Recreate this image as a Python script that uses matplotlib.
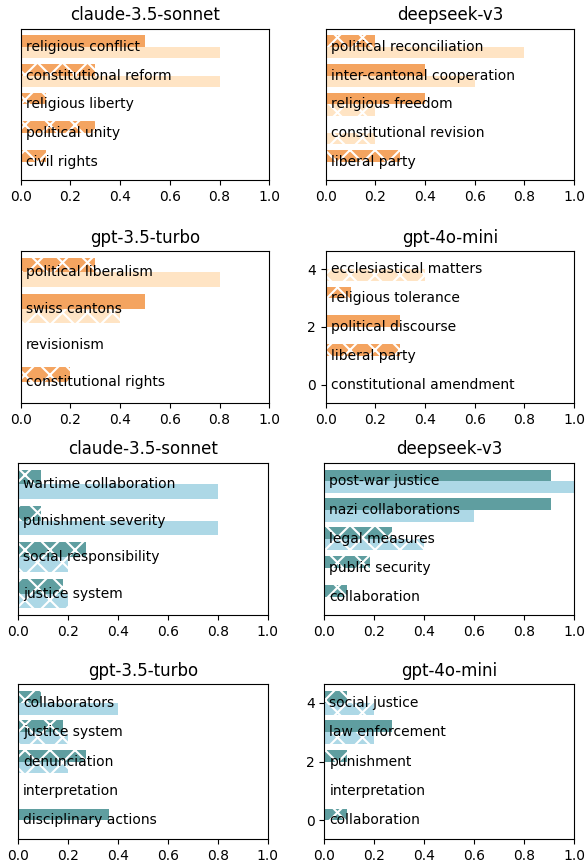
import numpy as np
import matplotlib
matplotlib.use("Agg")
import matplotlib.pyplot as plt

# ---- data (bottom -> top) ----
models = ['claude-3.5-sonnet', 'deepseek-v3', 'gpt-3.5-turbo', 'gpt-4o-mini']

# topic 1 (orange)
claude_a_labels = ['civil rights', 'political unity', 'religious liberty', 'constitutional reform', 'religious conflict']
claude_a_dark = [0.1, 0.3, 0.1, 0.3, 0.5]
claude_a_dark_hatch = [1, 1, 1, 1, 0]
claude_a_light = [0.0, 0.0, 0.0, 0.8, 0.8]
claude_a_light_hatch = [0, 0, 0, 0, 0]

deepseek_a_labels = ['liberal party', 'constitutional revision', 'religious freedom', 'inter-cantonal cooperation', 'political reconciliation']
deepseek_a_dark = [0.3, 0.0, 0.4, 0.4, 0.2]
deepseek_a_dark_hatch = [1, 0, 0, 0, 1]
deepseek_a_light = [0.0, 0.2, 0.2, 0.6, 0.8]
deepseek_a_light_hatch = [0, 1, 1, 0, 0]

gpt35_a_labels = ['constitutional rights', 'revisionism', 'swiss cantons', 'political liberalism']
gpt35_a_dark = [0.2, 0.0, 0.5, 0.3]
gpt35_a_dark_hatch = [1, 0, 0, 1]
gpt35_a_light = [0.0, 0.0, 0.4, 0.8]
gpt35_a_light_hatch = [0, 0, 1, 0]

gpt4o_a_labels = ['constitutional amendment', 'liberal party', 'political discourse', 'religious tolerance', 'ecclesiastical matters']
gpt4o_a_dark = [0.0, 0.3, 0.3, 0.1, 0.0]
gpt4o_a_dark_hatch = [0, 1, 0, 1, 0]
gpt4o_a_light = [0.0, 0.0, 0.0, 0.0, 0.4]
gpt4o_a_light_hatch = [0, 0, 0, 0, 1]

# topic 2 (teal)
claude_b_labels = ['justice system', 'social responsibility', 'punishment severity', 'wartime collaboration']
claude_b_dark = [0.182, 0.273, 0.091, 0.091]
claude_b_dark_hatch = [1, 1, 1, 1]
claude_b_light = [0.2, 0.2, 0.8, 0.8]
claude_b_light_hatch = [1, 1, 0, 0]

deepseek_b_labels = ['collaboration', 'public security', 'legal measures', 'nazi collaborations', 'post-war justice']
deepseek_b_dark = [0.091, 0.182, 0.273, 0.909, 0.909]
deepseek_b_dark_hatch = [1, 1, 1, 0, 0]
deepseek_b_light = [0.0, 0.0, 0.4, 0.6, 1.0]
deepseek_b_light_hatch = [0, 0, 1, 0, 0]

gpt35_b_labels = ['disciplinary actions', 'interpretation', 'denunciation', 'justice system', 'collaborators']
gpt35_b_dark = [0.364, 0.0, 0.273, 0.182, 0.091]
gpt35_b_dark_hatch = [0, 0, 1, 1, 1]
gpt35_b_light = [0.0, 0.0, 0.2, 0.2, 0.4]
gpt35_b_light_hatch = [0, 0, 1, 1, 0]

gpt4o_b_labels = ['collaboration', 'interpretation', 'punishment', 'law enforcement', 'social justice']
gpt4o_b_dark = [0.091, 0.0, 0.091, 0.273, 0.091]
gpt4o_b_dark_hatch = [1, 0, 1, 0, 1]
gpt4o_b_light = [0.0, 0.0, 0.0, 0.2, 0.2]
gpt4o_b_light_hatch = [0, 0, 0, 1, 1]

panels_a = [
    (claude_a_labels, claude_a_dark, claude_a_dark_hatch, claude_a_light, claude_a_light_hatch),
    (deepseek_a_labels, deepseek_a_dark, deepseek_a_dark_hatch, deepseek_a_light, deepseek_a_light_hatch),
    (gpt35_a_labels, gpt35_a_dark, gpt35_a_dark_hatch, gpt35_a_light, gpt35_a_light_hatch),
    (gpt4o_a_labels, gpt4o_a_dark, gpt4o_a_dark_hatch, gpt4o_a_light, gpt4o_a_light_hatch),
]
panels_b = [
    (claude_b_labels, claude_b_dark, claude_b_dark_hatch, claude_b_light, claude_b_light_hatch),
    (deepseek_b_labels, deepseek_b_dark, deepseek_b_dark_hatch, deepseek_b_light, deepseek_b_light_hatch),
    (gpt35_b_labels, gpt35_b_dark, gpt35_b_dark_hatch, gpt35_b_light, gpt35_b_light_hatch),
    (gpt4o_b_labels, gpt4o_b_dark, gpt4o_b_dark_hatch, gpt4o_b_light, gpt4o_b_light_hatch),
]

# ---- style: draw at dpi 150 so hatch spacing matches, scale the rest ----
DPI = 150
S = 100 / DPI
W, H = 587, 865
plt.rcParams.update({
    'font.size': 10 * S,
    'axes.linewidth': 0.8 * S,
    'axes.titlepad': 6 * S,
    'xtick.major.size': 3.5 * S, 'ytick.major.size': 3.5 * S,
    'xtick.major.width': 0.8 * S, 'ytick.major.width': 0.8 * S,
    'xtick.major.pad': 3.5 * S, 'ytick.major.pad': 3.5 * S,
    'hatch.linewidth': 1.0,
})

fig = plt.figure(figsize=(W / DPI, H / DPI), dpi=DPI)

# axes boxes in pixels: (left, right, top, bottom)
rows = [(28.5, 180), (251, 403), (462.7, 615), (684, 839.3)]
cols_top = [(20.7, 269.3), (325.7, 574)]
cols_bot = [(18, 267.7), (324.3, 574)]


def draw_panel(ax, data, title, dark_c, light_c):
    labels, dark, dh, light, lh = data
    y = np.arange(len(labels))
    bars_d = ax.barh(y + 0.2, dark, height=0.4, color=dark_c, edgecolor='white', linewidth=0)
    bars_l = ax.barh(y - 0.2, light, height=0.4, color=light_c, edgecolor='white', linewidth=0)
    for b, h in zip(bars_d, dh):
        if h:
            b.set_hatch('xx')
    for b, h in zip(bars_l, lh):
        if h:
            b.set_hatch('xx')
    for yi, lab in zip(y, labels):
        ax.text(0.02, yi, lab, va='center', ha='left')
    ax.set_xlim(0, 1)
    ax.set_title(title)


all_panels = [(panels_a, 'sandybrown', 'bisque', 0), (panels_b, 'cadetblue', 'lightblue', 2)]
for panels, dc, lc, r0 in all_panels:
    for k, data in enumerate(panels):
        r = r0 + k // 2
        c = k % 2
        top, bot = rows[r]
        left, right = (cols_top if r < 2 else cols_bot)[c]
        ax = fig.add_axes([left / W, 1 - bot / H, (right - left) / W, (bot - top) / H])
        draw_panel(ax, data, models[k], dc, lc)
        if models[k] != 'gpt-4o-mini':
            ax.set_yticks([])

fig.savefig('out.png', dpi=DPI)
